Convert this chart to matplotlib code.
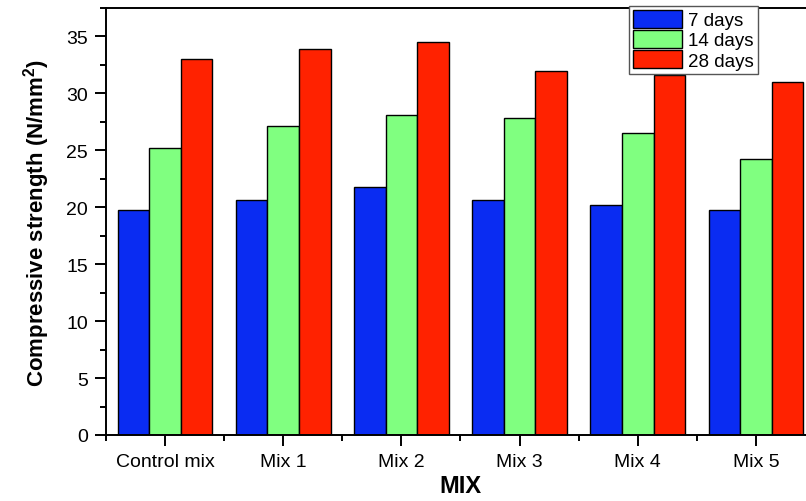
import numpy as np
import matplotlib.pyplot as plt
from matplotlib.ticker import MultipleLocator

# --- data ---
mixes = ['Control mix', 'Mix 1', 'Mix 2', 'Mix 3', 'Mix 4', 'Mix 5']
days_7 = [19.8, 20.6, 21.8, 20.6, 20.2, 19.8]
days_14 = [25.2, 27.1, 28.1, 27.8, 26.5, 24.2]
days_28 = [33.0, 33.9, 34.5, 32.0, 31.6, 31.0]
series_labels = ['7 days', '14 days', '28 days']
colors = ['#0a2cf2', '#80ff80', '#ff2200']

plt.rcParams['font.family'] = ['Liberation Sans', 'DejaVu Sans']

fig = plt.figure(figsize=(8.06, 5.02), dpi=100)
# the reference is cropped on the right, so the axes run past the figure edge
ax = fig.add_axes([106 / 806, 66 / 502, 709 / 806, 427 / 502])

x = np.arange(len(mixes))
w = 0.8 / 3
for i, (vals, lab) in enumerate(zip([days_7, days_14, days_28], series_labels)):
    ax.bar(x + (i - 1) * w, vals, width=w, color=colors[i], edgecolor='black',
           linewidth=1.0, label=lab)

ax.set_xlim(-0.5, len(mixes) - 0.5)
ax.set_ylim(0, 37.5)
ax.set_xticks(x)
ax.set_xticklabels(mixes)
ax.xaxis.set_minor_locator(MultipleLocator(1, offset=0.5))
ax.yaxis.set_major_locator(MultipleLocator(5))
ax.yaxis.set_minor_locator(MultipleLocator(2.5))
ax.tick_params(axis='both', which='major', direction='out', length=8, width=1.4,
               labelsize=14, colors='black', pad=5)
ax.tick_params(axis='both', which='minor', direction='out', length=4.5, width=1.4)
for s in ax.spines.values():
    s.set_linewidth(1.4)

ax.set_ylabel('Compressive strength (N/mm$^\\mathregular{2}$)', fontsize=16,
              fontweight='bold', labelpad=10)
ax.set_xlabel('MIX', fontsize=17, fontweight='bold', labelpad=3)

ax.legend(loc='upper left', bbox_to_anchor=(629 / 806, 495 / 502),
          bbox_transform=fig.transFigure, fontsize=13.5, frameon=True,
          fancybox=False, edgecolor='#555555', framealpha=1,
          handlelength=2.6, handleheight=1.1, labelspacing=0.05,
          handletextpad=0.35, borderpad=0.2, borderaxespad=0)

fig.savefig('out.png', dpi=100)
